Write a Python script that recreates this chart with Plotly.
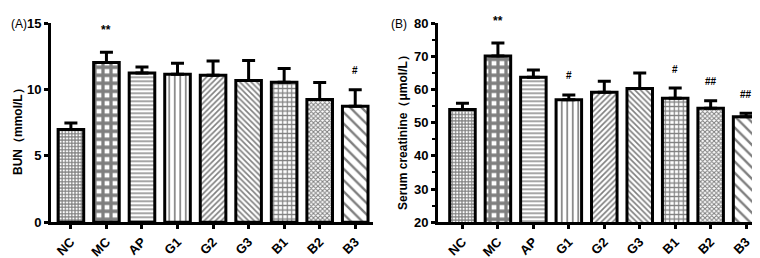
import plotly.graph_objects as go

groups = ["NC", "MC", "AP", "G1", "G2", "G3", "B1", "B2", "B3"]

bun_mean = [7.0, 12.05, 11.25, 11.15, 11.08, 10.68, 10.56, 9.25, 8.74]
bun_err = [0.48, 0.77, 0.45, 0.83, 1.08, 1.52, 1.03, 1.29, 1.24]
bun_sig = ["", "**", "", "", "", "", "", "", "#"]

scr_mean = [54.0, 70.1, 63.7, 56.9, 59.2, 60.3, 57.4, 54.4, 51.8]
scr_err = [1.9, 3.95, 2.2, 1.5, 3.3, 4.7, 3.05, 2.2, 1.1]
scr_sig = ["", "**", "", "#", "", "", "#", "##", "##"]

bun_ticks = [0, 5, 10, 15]
scr_ticks = [20, 30, 40, 50, 60, 70, 80]

patterns = ["+", "+", "-", "|", "/", "\\", "+", "x", "\\"]
pat_size = [3.2, 8, 4, 5.5, 4, 4, 4.5, 3.2, 8]
pat_sol = [0.6, 0.65, 0.35, 0.3, 0.4, 0.4, 0.45, 0.55, 0.3]

FONT = "Liberation Sans"

fig = go.Figure()


def add_panel(means, errs, xa, ya):
    fig.add_trace(go.Bar(
        x=groups, y=means, xaxis=xa, yaxis=ya, width=0.72,
        marker=dict(
            color="white",
            line=dict(color="black", width=3),
            pattern=dict(shape=patterns, size=pat_size, solidity=pat_sol,
                         fgcolor="black", bgcolor="white", fillmode="overlay"),
        ),
        error_y=dict(type="data", array=errs, arrayminus=[0] * len(errs),
                     symmetric=False, color="black", thickness=3, width=6.5),
        showlegend=False,
    ))


add_panel(bun_mean, bun_err, "x", "y")
add_panel(scr_mean, scr_err, "x2", "y2")


def sig_annots(means, errs, sigs, xr, yr):
    out = []
    for g, m, e, s in zip(groups, means, errs, sigs):
        if s:
            out.append(dict(x=g, y=m + e, xref=xr, yref=yr, text="<b>%s</b>" % s,
                            showarrow=False, yanchor="middle",
                            yshift=22 if s == "**" else 19,
                            font=dict(family=FONT, size=12 if s == "**" else 10,
                                      color="#000000")))
    return out


annots = sig_annots(bun_mean, bun_err, bun_sig, "x", "y")
annots += sig_annots(scr_mean, scr_err, scr_sig, "x2", "y2")

annots += [
    dict(x=1 / 760, y=(258 - 10) / 258, xref="paper", yref="paper", text="(A)",
         showarrow=False, xanchor="left", yanchor="middle",
         font=dict(family=FONT, size=12, color="black")),
    dict(x=381 / 760, y=(258 - 10) / 258, xref="paper", yref="paper", text="(B)",
         showarrow=False, xanchor="left", yanchor="middle",
         font=dict(family=FONT, size=12, color="black")),
    dict(x=10 / 760, y=(258 - 121) / 258, xref="paper", yref="paper",
         text="<b>BUN（mmol/L）</b>", textangle=-90, showarrow=False,
         xanchor="center", yanchor="middle",
         font=dict(family=FONT, size=12, color="black")),
    dict(x=395 / 760, y=(258 - 122) / 258, xref="paper", yref="paper",
         text="<b>Serum creatinine（μmol/L）</b>", textangle=-90, showarrow=False,
         xanchor="center", yanchor="middle",
         font=dict(family=FONT, size=12, color="black")),
]

xcommon = dict(showline=True, linecolor="black", linewidth=3, ticks="outside",
               ticklen=4, tickwidth=2.5, tickcolor="black", tickangle=-45,
               tickfont=dict(family=FONT, size=13, color="black", weight="bold"),
               showgrid=False, zeroline=False, fixedrange=True)
ycommon = dict(showline=True, linecolor="black", linewidth=3, ticks="outside",
               ticklen=4, tickwidth=2.5, tickcolor="black",
               tickfont=dict(family=FONT, size=13, color="black", weight="bold"),
               showgrid=False, zeroline=False, fixedrange=True)

ydom = [(258 - 220) / 258, (258 - 8.8) / 258]

fig.update_layout(
    width=760, height=258,
    margin=dict(l=0, r=0, t=0, b=0),
    paper_bgcolor="white", plot_bgcolor="white",
    xaxis=dict(domain=[43 / 760, 365 / 760], range=[-0.56, 8.5], anchor="y", **xcommon),
    yaxis=dict(domain=ydom, range=[0, 15], tickvals=bun_ticks, anchor="x", **ycommon),
    xaxis2=dict(domain=[430 / 760, 753 / 760], range=[-0.69, 8.42], anchor="y2", **xcommon),
    yaxis2=dict(domain=ydom, range=[20, 80], tickvals=scr_ticks, anchor="x2",
                minor=dict(ticks="outside", ticklen=3, tickwidth=2, tickcolor="black",
                           dtick=5, showgrid=False),
                **ycommon),
    annotations=annots,
)

fig.write_html("out.html")
